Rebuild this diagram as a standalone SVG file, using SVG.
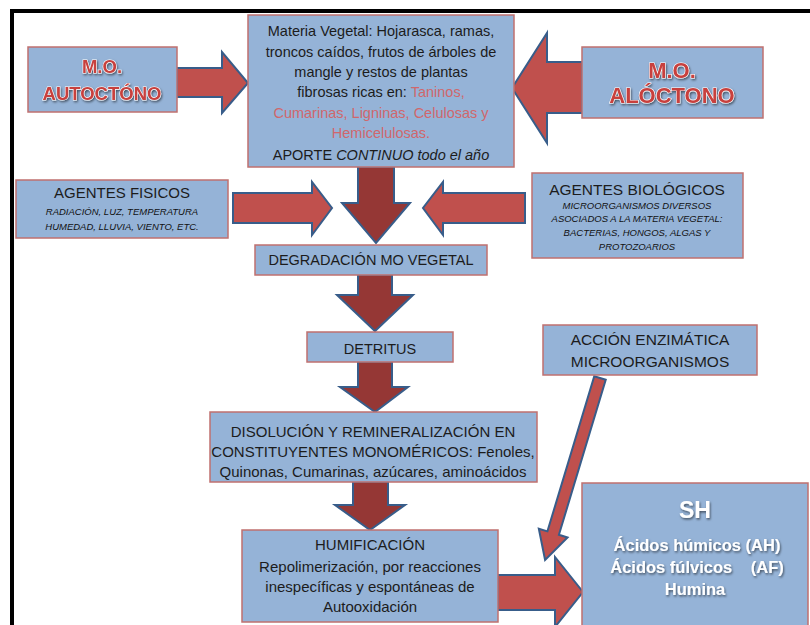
<svg xmlns="http://www.w3.org/2000/svg" width="810" height="625" viewBox="0 0 810 625">
<defs>
<filter id="sh" x="-10%" y="-10%" width="120%" height="130%"><feDropShadow dx="1" dy="1.5" stdDeviation="0.8" flood-color="#000" flood-opacity="0.55"/></filter>
<style>
.box{fill:#95B3D7;stroke:#C0706F;stroke-width:1.5}
.t{font-family:"Liberation Sans",Arial,sans-serif;fill:#1c1c1c;text-anchor:middle}
.sm{font-family:"Liberation Sans",Arial,sans-serif;font-style:italic;fill:#111;text-anchor:middle;font-size:9.5px}
.red{fill:#D0676C}
.mo{font-family:"Liberation Sans",Arial,sans-serif;font-weight:bold;fill:#C8403E;stroke:#fff;stroke-width:1.2;paint-order:stroke;text-anchor:middle;filter:url(#sh)}
.shx{font-family:"Liberation Sans",Arial,sans-serif;font-weight:bold;fill:#fff;text-anchor:middle;filter:url(#sh)}
.arr{fill:#C0504D;stroke:#385D8A;stroke-width:2;stroke-linejoin:miter}
.dn{fill:#953735;stroke:#385D8A;stroke-width:2;stroke-linejoin:miter}
</style>
</defs>
<rect width="810" height="625" fill="#fff"/>
<path d="M12,625 V11 H810" fill="none" stroke="#000" stroke-width="4"/>

<g id="connectors">
<polygon class="arr" points="177,68 222,68 222,52 248,83 222,113 222,97 177,97"/>
<polygon class="arr" points="582,62 547,62 547,33 512,88 547,143 547,113 582,113"/>
<polygon class="arr" points="233,193 312,193 312,182 332,208 312,235 312,223 233,223"/>
<polygon class="arr" points="525,193 443,193 443,182 423,208 443,235 443,223 525,223"/>
<polygon class="dn" points="358,167 394,167 394,203 410,203 376,243 342,203 358,203"/>
<polygon class="dn" points="358,275 392,275 392,295 413,295 375,331 337,295 358,295"/>
<polygon class="dn" points="358,362 392,362 392,387 408,387 375,412 340,387 358,387"/>
<polygon class="dn" points="353,482 388,482 388,505 405,505 370,530 335,505 353,505"/>
<polygon class="arr" points="498,575 555,575 555,557 583,592 555,627 555,610 498,610"/>
<polygon class="arr" transform="translate(600,378) rotate(106.8)" points="0,-6 162,-6 162,-15 190,0 162,15 162,6 0,6"/>
</g>

<g id="autoctono">
<rect class="box" x="28" y="47" width="149" height="65"/>
<text class="mo" x="102" y="73" font-size="18.5">M.O.</text>
<text class="mo" x="102" y="100" font-size="18.5">AUTOCTÓNO</text>
</g>

<g id="aloctono">
<rect class="box" x="582" y="47" width="181" height="71"/>
<text class="mo" x="672" y="78" font-size="22">M.O.</text>
<text class="mo" x="672" y="103" font-size="22">ALÓCTONO</text>
</g>

<g id="materia">
<rect class="box" x="248" y="15" width="266" height="152"/>
<text class="t" x="381" y="36" font-size="14.5">Materia Vegetal: Hojarasca, ramas,</text>
<text class="t" x="381" y="57" font-size="14.5">troncos caídos, frutos de árboles de</text>
<text class="t" x="381" y="77" font-size="14.5">mangle y restos de plantas</text>
<text class="t" x="381" y="97" font-size="14.5">fibrosas ricas en: <tspan class="red">Taninos,</tspan></text>
<text class="t red" x="381" y="118" font-size="14.5">Cumarinas, Ligninas, Celulosas y</text>
<text class="t red" x="381" y="138" font-size="14.5">Hemicelulosas.</text>
<text class="t" x="381" y="160" font-size="14.5">APORTE <tspan font-style="italic">CONTINUO todo el año</tspan></text>
</g>

<g id="fisicos">
<rect class="box" x="16" y="180" width="212" height="58"/>
<text class="t" x="122" y="198" font-size="15">AGENTES FISICOS</text>
<text class="sm" x="122" y="215">RADIACIÓN, LUZ, TEMPERATURA</text>
<text class="sm" x="122" y="230">HUMEDAD, LLUVIA, VIENTO, ETC.</text>
</g>

<g id="biologicos">
<rect class="box" x="532" y="173" width="211" height="85"/>
<text class="t" x="637" y="195" font-size="15.5">AGENTES BIOLÓGICOS</text>
<text class="sm" x="637" y="209">MICROORGANISMOS DIVERSOS</text>
<text class="sm" x="637" y="222">ASOCIADOS A LA MATERIA VEGETAL:</text>
<text class="sm" x="637" y="236">BACTERIAS, HONGOS, ALGAS Y</text>
<text class="sm" x="637" y="250">PROTOZOARIOS</text>
</g>

<g id="degradacion">
<rect class="box" x="255" y="245" width="232" height="30"/>
<text class="t" x="371" y="265" font-size="14.5">DEGRADACIÓN MO VEGETAL</text>
</g>

<g id="detritus">
<rect class="box" x="307" y="332" width="146" height="30"/>
<text class="t" x="380" y="354" font-size="14.5">DETRITUS</text>
</g>

<g id="disolucion">
<rect class="box" x="210" y="412" width="327" height="70"/>
<text class="t" x="373" y="437" font-size="15">DISOLUCIÓN Y REMINERALIZACIÓN EN</text>
<text class="t" x="373" y="457" font-size="15">CONSTITUYENTES MONOMÉRICOS: Fenoles,</text>
<text class="t" x="373" y="477" font-size="15">Quinonas, Cumarinas, azúcares, aminoácidos</text>
</g>

<g id="enzimatica">
<rect class="box" x="543" y="325" width="214" height="50"/>
<text class="t" x="650" y="345" font-size="15.5">ACCIÓN ENZIMÁTICA</text>
<text class="t" x="650" y="367" font-size="15.5">MICROORGANISMOS</text>
</g>

<g id="humificacion">
<rect class="box" x="242" y="530" width="256" height="92"/>
<text class="t" x="370" y="550" font-size="15">HUMIFICACIÓN</text>
<text class="t" x="370" y="572" font-size="15">Repolimerización, por reacciones</text>
<text class="t" x="370" y="592" font-size="15">inespecíficas y espontáneas de</text>
<text class="t" x="370" y="612" font-size="15">Autooxidación</text>
</g>

<g id="sh">
<rect class="box" x="582" y="483" width="226" height="150"/>
<text class="shx" x="695" y="518" font-size="23">SH</text>
<text class="shx" x="697" y="551" font-size="16.5">Ácidos húmicos (AH)</text>
<text class="shx" x="697" y="573" font-size="16.5">Ácidos fúlvicos <tspan dx="14">(AF)</tspan></text>
<text class="shx" x="695" y="595" font-size="16.5">Humina</text>
</g>
</svg>
